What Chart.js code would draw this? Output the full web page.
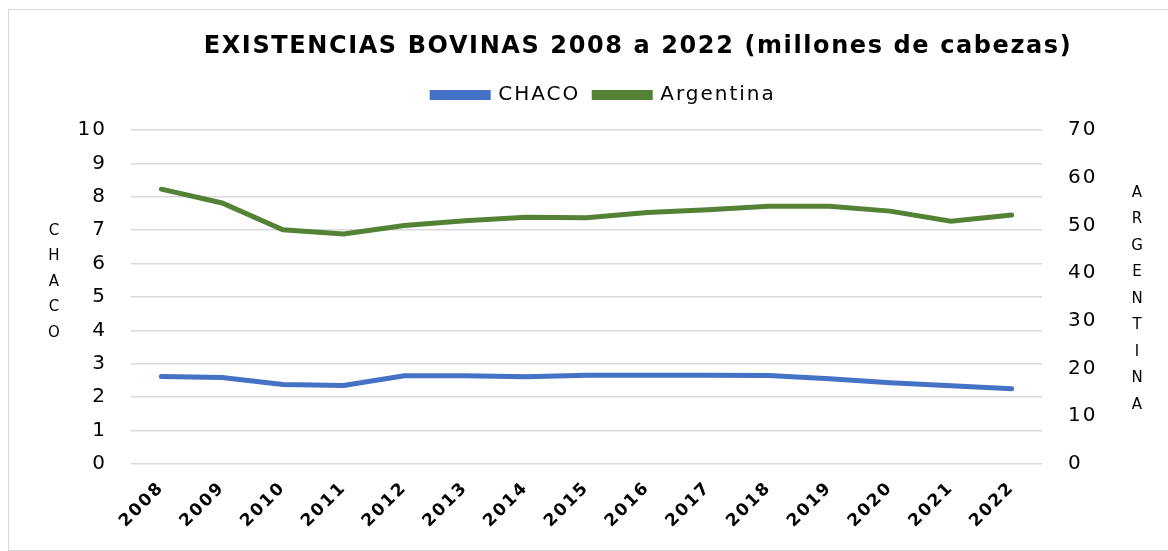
<!DOCTYPE html>
<html>
<head>
<meta charset="utf-8">
<script src="https://cdn.jsdelivr.net/npm/chart.js@4.4.0/dist/chart.umd.min.js"></script>
<style>
  html, body { margin: 0; padding: 0; background: #fff; overflow: hidden; }
  #frame { position: absolute; left: 8px; top: 9px; width: 1180px; height: 540px; border: 1px solid #d9d9d9; }
  #wrap { position: absolute; left: 0; top: 0; width: 1168px; height: 551px; }
</style>
</head>
<body>
<div id="frame"></div>
<div id="wrap"><canvas id="chart"></canvas></div>
<script>
const years = ["2008", "2009", "2010", "2011", "2012", "2013", "2014", "2015",
  "2016", "2017", "2018", "2019", "2020", "2021", "2022"];
const chaco = [2.62, 2.59, 2.38, 2.35, 2.64, 2.64, 2.61, 2.66, 2.66, 2.66, 2.65, 2.55, 2.43, 2.34, 2.25];
const argentina = [57.6, 54.7, 49.1, 48.2, 50.0, 51.0, 51.7, 51.6, 52.7, 53.3, 54.0, 54.0, 53.0, 50.9, 52.2];
const chartTitle = "EXISTENCIAS BOVINAS 2008 a 2022 (millones de cabezas)";
const leftTitle = "CHACO";
const rightTitle = "ARGENTINA";

const spacing = {
  id: "spacing",
  beforeInit(chart) {
    // extra room under the legend
    const fit = chart.legend.fit;
    chart.legend.fit = function () { fit.call(this); this.height += 15; };
  },
  beforeLayout(chart) { chart.ctx.letterSpacing = "2px"; },
  beforeDraw(chart) { chart.ctx.letterSpacing = "2px"; }
};

// title and stacked-letter axis titles
const texts = {
  id: "texts",
  afterDraw(chart) {
    const ctx = chart.ctx;
    ctx.save();
    ctx.fillStyle = "#000";
    ctx.textAlign = "center";
    ctx.textBaseline = "middle";
    ctx.letterSpacing = "1.6px";
    ctx.font = "bold 24px 'DejaVu Sans'";
    ctx.fillText(chartTitle, 638, 47);
    ctx.letterSpacing = "0px";
    ctx.font = "15px 'DejaVu Sans'";
    leftTitle.split("").forEach((c, i) => ctx.fillText(c, 54, 231 + i * 25.5));
    rightTitle.split("").forEach((c, i) => ctx.fillText(c, 1137, 193 + i * 26.5));
    ctx.restore();
  }
};

const tickFont = { family: "'DejaVu Sans'", size: 20 };

new Chart(document.getElementById("chart"), {
  type: "line",
  data: {
    labels: years,
    datasets: [{
      label: "CHACO",
      data: chaco,
      borderColor: "#4472c4",
      backgroundColor: "#4472c4",
      borderWidth: 5,
      borderCapStyle: "round",
      pointRadius: 0,
      tension: 0,
      yAxisID: "y"
    }, {
      label: "Argentina",
      data: argentina,
      borderColor: "#548235",
      backgroundColor: "#548235",
      borderWidth: 5,
      borderCapStyle: "round",
      pointRadius: 0,
      tension: 0,
      yAxisID: "y1"
    }]
  },
  options: {
    responsive: true,
    maintainAspectRatio: false,
    animation: false,
    layout: { padding: { top: 71, left: 40 } },
    plugins: {
      title: { display: false },
      legend: {
        display: true,
        labels: {
          color: "#000",
          font: { family: "'DejaVu Sans'", size: 20 },
          boxWidth: 56,
          boxHeight: 5,
          padding: 14
        }
      },
      tooltip: { enabled: false }
    },
    scales: {
      x: {
        offset: true,
        grid: { display: false },
        border: { display: false },
        ticks: {
          color: "#000",
          font: { family: "'DejaVu Sans'", size: 17, weight: "bold" },
          minRotation: 45,
          maxRotation: 45,
          padding: 6
        },
        afterFit(scale) { scale.height = 87; }
      },
      y: {
        position: "left",
        min: 0,
        max: 10,
        ticks: { stepSize: 1, color: "#000", font: tickFont, padding: 24 },
        grid: { color: "#d9d9d9", lineWidth: 1.5, drawTicks: false },
        border: { display: false },
        afterFit(scale) { scale.width = 91; }
      },
      y1: {
        position: "right",
        min: 0,
        max: 70,
        ticks: { stepSize: 10, color: "#000", font: tickFont, padding: 26 },
        grid: { display: false, drawTicks: false },
        border: { display: false },
        afterFit(scale) { scale.width = 126; }
      }
    }
  },
  plugins: [spacing, texts]
});
</script>
</body>
</html>
